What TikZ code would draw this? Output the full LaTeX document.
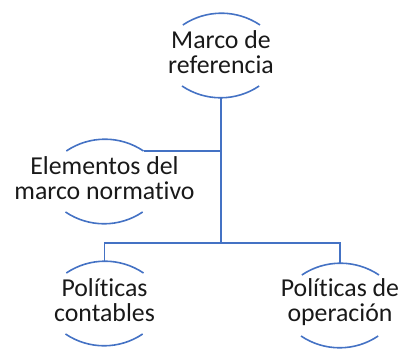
\documentclass[tikz,border=0pt]{standalone}
\usepackage{fontspec}
\setmainfont[Ligatures={NoCommon}]{Carlito}
\usetikzlibrary{calc}
\definecolor{arcblue}{RGB}{68,114,196}

\begin{document}
\begin{tikzpicture}[
  x=1pt, y=1pt,
  txt/.style={align=center, inner sep=0pt, text=black!90, font=\fontsize{25.8}{24.5}\selectfont},
  ln/.style={draw=arcblue, line width=1.5pt},
  arcln/.style={draw=arcblue, line width=1.6pt}
]
\useasboundingbox (0,0) rectangle (398,352);
\node[txt] (ref) at (221,300) {Marco de\\referencia};
\node[txt] (elem) at (104.5,174) {Elementos del\\marco normativo};
\node[txt] (pcont) at (104.5,52) {Políticas\\contables};
\node[txt] (pop) at (340,50) {Políticas de\\operación};
% half-circle arcs round each label
\foreach \n in {ref,elem,pcont,pop} {
  \coordinate (\n-top) at ($(\n)+(0,39)$);
  \coordinate (\n-bot) at ($(\n)+(0,-46)$);
  \coordinate (\n-ne) at ($(\n-top)+(39,-12)$);
  \draw[arcln] (\n-ne) arc[start angle=56, end angle=124, radius=69pt];
  \draw[arcln] ($(\n-bot)+(-39,12)$) arc[start angle=236, end angle=304, radius=69pt];
}
\coordinate (hub) at (221,109);
\draw[ln] (ref-bot) -- (hub);
\draw[ln] (elem-ne) -- (elem-ne -| hub);
\draw[ln] (pcont-top) -- (pcont-top |- hub) -- (pop-top |- hub) -- (pop-top);
\end{tikzpicture}
\end{document}
